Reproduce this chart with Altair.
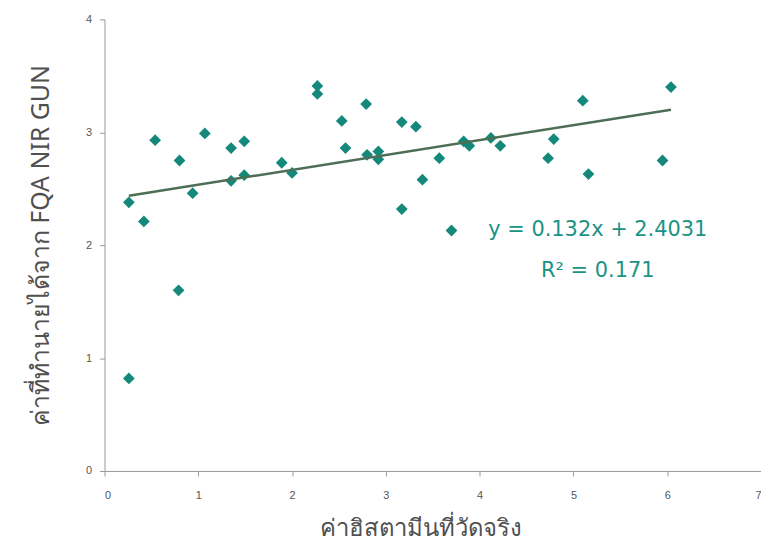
import altair as alt
import pandas as pd

# measured histamine (x) vs. predicted by FQA NIR GUN (y)
x_vals = [0.26, 0.26, 0.42, 0.54, 0.80, 0.79, 0.94, 1.07, 1.35, 1.35, 1.49, 1.49,
          1.89, 2.00, 2.27, 2.27, 2.53, 2.57, 2.79, 2.80, 2.92, 2.92, 3.17, 3.17,
          3.32, 3.39, 3.57, 3.70, 3.83, 3.89, 4.12, 4.22, 4.73, 4.79, 5.10, 5.16,
          5.95, 6.04]
y_vals = [2.38, 0.82, 2.21, 2.93, 2.75, 1.60, 2.46, 2.99, 2.86, 2.57, 2.92, 2.62,
          2.73, 2.64, 3.41, 3.34, 3.10, 2.86, 3.25, 2.80, 2.83, 2.76, 3.09, 2.32,
          3.05, 2.58, 2.77, 2.13, 2.92, 2.88, 2.95, 2.88, 2.77, 2.94, 3.28, 2.63,
          2.75, 3.40]

slope = 0.132
intercept = 2.4031
eq_labels = ["y = 0.132x + 2.4031", "R² = 0.171"]
eq_x = [5.26, 5.26]
eq_y = [2.13, 1.77]

x_ticks = [0, 1, 2, 3, 4, 5, 6, 7]
y_ticks = [0, 1, 2, 3, 4]

x_title = "ค่าฮิสตามีนที่วัดจริง"
y_title = "ค่าที่ทำนายได้จาก FQA NIR GUN"

pts = pd.DataFrame({"x": x_vals, "y": y_vals})
x_lo, x_hi = min(x_vals), max(x_vals)
trend = pd.DataFrame({"x": [x_lo, x_hi],
                      "y": [slope * x_lo + intercept, slope * x_hi + intercept]})
ann = pd.DataFrame({"x": eq_x, "y": eq_y, "t": eq_labels})

xs = alt.Scale(domain=[0, 7], nice=False, zero=False)
ys = alt.Scale(domain=[0, 4], nice=False, zero=False)

axis_common = dict(grid=False, domainColor="#9a9a9a", tickColor="#9a9a9a",
                   tickSize=5, labelColor="#555555", labelFont="Liberation Sans",
                   labelFontSize=11, format="d", titleColor="#505050",
                   titleFontWeight="normal", titleFont="Noto Sans")

x_axis = alt.Axis(values=x_ticks, title=x_title, labelPadding=14,
                  titlePadding=16, titleFontSize=24, titleX=318, **axis_common)
y_axis = alt.Axis(values=y_ticks, title=y_title, labelPadding=8,
                  titlePadding=32, titleFontSize=25, **axis_common)

scatter = alt.Chart(pts).mark_point(
    shape="diamond", filled=True, size=140, color="#14897b", opacity=1
).encode(
    x=alt.X("x:Q", scale=xs, axis=x_axis),
    y=alt.Y("y:Q", scale=ys, axis=y_axis),
)

line = alt.Chart(trend).mark_line(color="#4d6e55", strokeWidth=2.5).encode(
    x=alt.X("x:Q", scale=xs),
    y=alt.Y("y:Q", scale=ys),
)

text = alt.Chart(ann).mark_text(
    color="#1b9384", fontSize=21, font="DejaVu Sans", align="center", baseline="middle"
).encode(
    x=alt.X("x:Q", scale=xs),
    y=alt.Y("y:Q", scale=ys),
    text="t:N",
)

chart = alt.layer(scatter, line, text).properties(
    width=660, height=454,
    autosize=alt.AutoSizeParams(type="none"),
    padding={"left": 97, "top": 10, "right": 0, "bottom": 75},
).configure_view(stroke=None)

chart.save("out.html", embed_options={"renderer": "svg", "actions": False})
